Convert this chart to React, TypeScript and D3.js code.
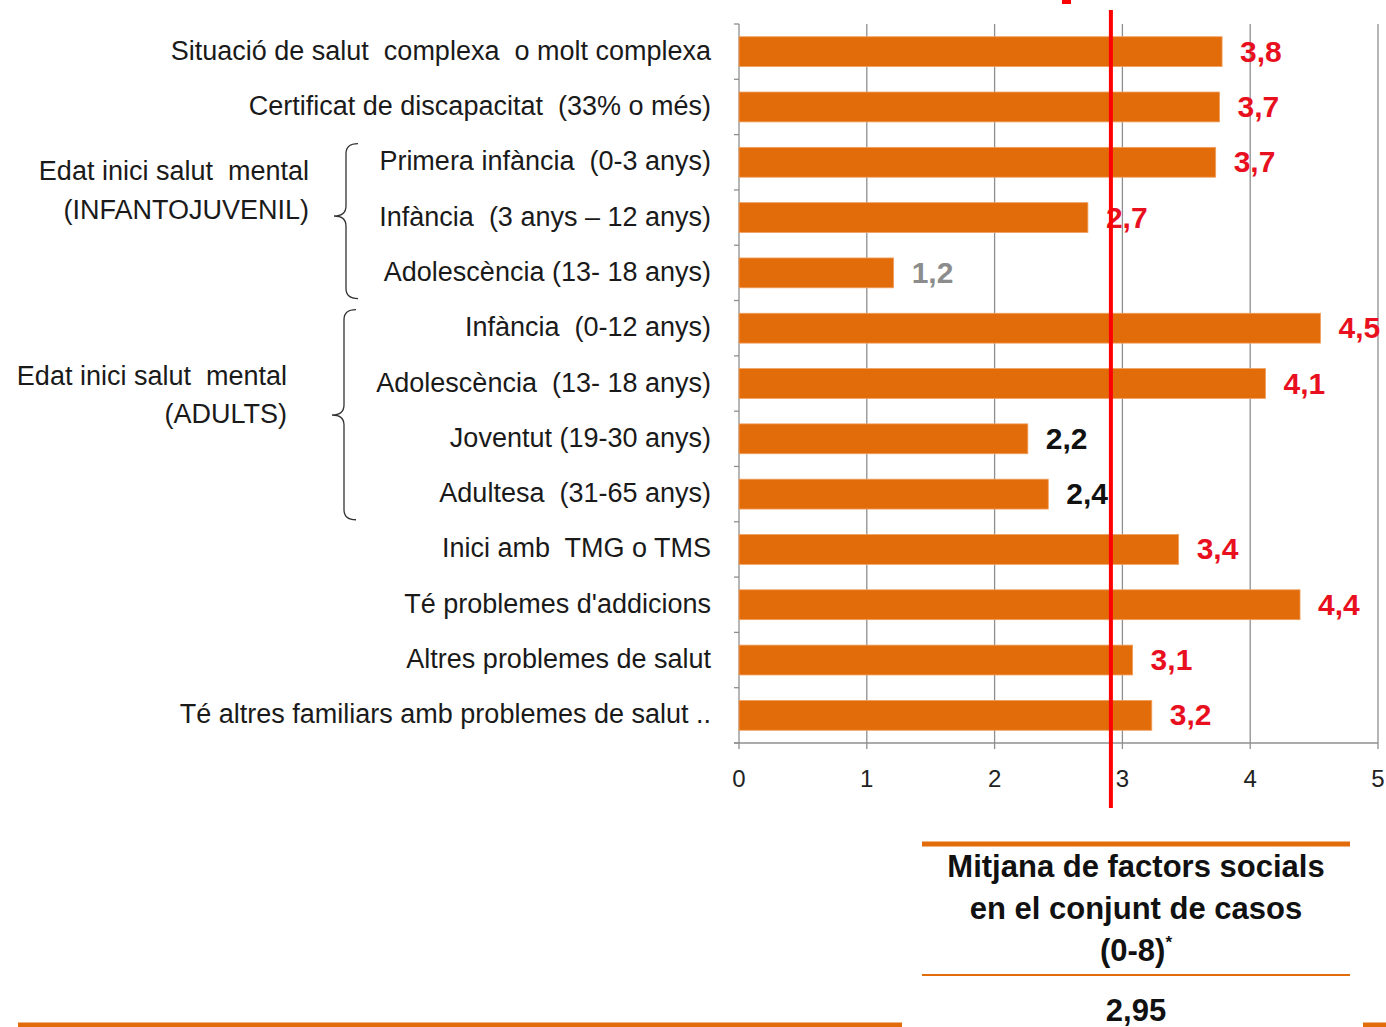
import React from "react";
import * as d3 from "d3";

const categories = [
  "Situació de salut  complexa  o molt complexa",
  "Certificat de discapacitat  (33% o més)",
  "Primera infància  (0-3 anys)",
  "Infància  (3 anys – 12 anys)",
  "Adolescència (13- 18 anys)",
  "Infància  (0-12 anys)",
  "Adolescència  (13- 18 anys)",
  "Joventut (19-30 anys)",
  "Adultesa  (31-65 anys)",
  "Inici amb  TMG o TMS",
  "Té problemes d'addicions",
  "Altres problemes de salut",
  "Té altres familiars amb problemes de salut ..",
];
const values = [3.78, 3.76, 3.73, 2.73, 1.21, 4.55, 4.12, 2.26, 2.42, 3.44, 4.39, 3.08, 3.23];
const valueLabels = ["3,8", "3,7", "3,7", "2,7", "1,2", "4,5", "4,1", "2,2", "2,4", "3,4", "4,4", "3,1", "3,2"];
const labelKinds = ["red", "red", "red", "red", "gray", "red", "red", "black", "black", "red", "red", "red", "red"];
const xTicks = [0, 1, 2, 3, 4, 5];
const meanValue = 2.91;
const groups = [
  { lines: ["Edat inici salut  mental", "(INFANTOJUVENIL)"], from: 2, to: 4 },
  { lines: ["Edat inici salut  mental", "(ADULTS)"], from: 5, to: 8 },
];
const tableLines = ["Mitjana de factors socials", "en el conjunt de casos", "(0-8)"];
const tableValue = "2,95";

const ORANGE = "#E36C0A";
const RED = "#E8101E";
const kindColor: Record<string, string> = { red: RED, gray: "#8C8C8C", black: "#111" };
const FONT = "'Liberation Sans', Arial, sans-serif";

function bracePath(xv: number, xt: number, xe: number, top: number, bottom: number, mid: number) {
  const r = 10;
  return `M${xe},${top} Q${xv},${top} ${xv},${top + r} L${xv},${mid - r} Q${xv},${mid} ${xt},${mid} Q${xv},${mid} ${xv},${mid + r} L${xv},${bottom - r} Q${xv},${bottom} ${xe},${bottom}`;
}

export default function App() {
  const x = d3.scaleLinear().domain([0, 5]).range([739, 1378]);
  const y = d3.scaleBand<number>().domain(d3.range(categories.length)).range([24, 743]).paddingInner(0.46).paddingOuter(0.23);
  const step = y.step();
  const bw = y.bandwidth();
  const y0 = 24, y1 = 743;
  const groupCfg = [
    { xv: 346, xlab: 309, lineY: [180, 219], mid: 216 },
    { xv: 344, xlab: 287, lineY: [385, 423], mid: 415 },
  ];

  return (
    <svg width={1386} height={1027} style={{ position: "absolute", left: 0, top: 0, background: "#fff" }} fontFamily={FONT}>
      {xTicks.slice(1).map((t) => (
        <line key={"g" + t} x1={x(t)} x2={x(t)} y1={y0} y2={y1 + 6} stroke="#8f8f8f" strokeWidth={1.3} />
      ))}
      <line x1={x(0)} x2={x(0)} y1={y0} y2={y1 + 6} stroke="#8f8f8f" strokeWidth={1.3} />
      {d3.range(categories.length + 1).map((i) => (
        <line key={"yt" + i} x1={x(0) - 5} x2={x(0)} y1={y0 + i * step} y2={y0 + i * step} stroke="#8f8f8f" strokeWidth={1.3} />
      ))}
      <line x1={x(0) - 5} x2={x(5)} y1={y1} y2={y1} stroke="#8f8f8f" strokeWidth={1.3} />
      {xTicks.map((t) => (
        <text key={"xt" + t} x={x(t)} y={787} fontSize={24} textAnchor="middle" fill="#222">{t}</text>
      ))}
      {values.map((v, i) => (
        <rect key={"b" + i} x={x(0)} y={y(i)!} width={x(v) - x(0)} height={bw} fill={ORANGE} stroke="#F0A060" strokeWidth={0.8} />
      ))}
      {categories.map((c, i) => (
        <text key={"c" + i} x={711} y={y(i)! + bw / 2 + 8} fontSize={27} textAnchor="end" fill="#1a1a1a" style={{ whiteSpace: "pre" }}>{c}</text>
      ))}
      {values.map((v, i) => (
        <text key={"v" + i} x={x(v) + 18} y={y(i)! + bw / 2 + 10} fontSize={30} fontWeight="bold" fill={kindColor[labelKinds[i]]}>{valueLabels[i]}</text>
      ))}
      {groups.map((g, gi) => {
        const cfg = groupCfg[gi];
        const top = y0 + g.from * step + 9;
        const bottom = y0 + (g.to + 1) * step - 2;
        return (
          <g key={"grp" + gi}>
            <path d={bracePath(cfg.xv, cfg.xv - 12, cfg.xv + 12, top, bottom, cfg.mid)} fill="none" stroke="#333" strokeWidth={1.3} />
            {g.lines.map((l, li) => (
              <text key={li} x={cfg.xlab} y={cfg.lineY[li]} fontSize={27} textAnchor="end" fill="#1a1a1a" style={{ whiteSpace: "pre" }}>{l}</text>
            ))}
          </g>
        );
      })}
      <line x1={x(meanValue)} x2={x(meanValue)} y1={10} y2={808} stroke="#FF0000" strokeWidth={4} />
      <rect x={1062} y={0} width={9} height={4} fill="#FF0000" />
      <line x1={922} x2={1350} y1={844} y2={844} stroke={ORANGE} strokeWidth={5} />
      {tableLines.map((l, i) => (
        <text key={"tl" + i} x={1136} y={877 + i * 42} fontSize={31} fontWeight="bold" textAnchor="middle" fill="#111">
          {l}
          {i === 2 ? <tspan dy={-13} fontSize={17}>*</tspan> : null}
        </text>
      ))}
      <line x1={922} x2={1350} y1={975} y2={975} stroke={ORANGE} strokeWidth={2} />
      <text x={1136} y={1021} fontSize={31} fontWeight="bold" textAnchor="middle" fill="#111">{tableValue}</text>
      <line x1={18} x2={902} y1={1025} y2={1025} stroke={ORANGE} strokeWidth={5} />
      <line x1={1363} x2={1386} y1={1025} y2={1025} stroke={ORANGE} strokeWidth={5} />
    </svg>
  );
}
